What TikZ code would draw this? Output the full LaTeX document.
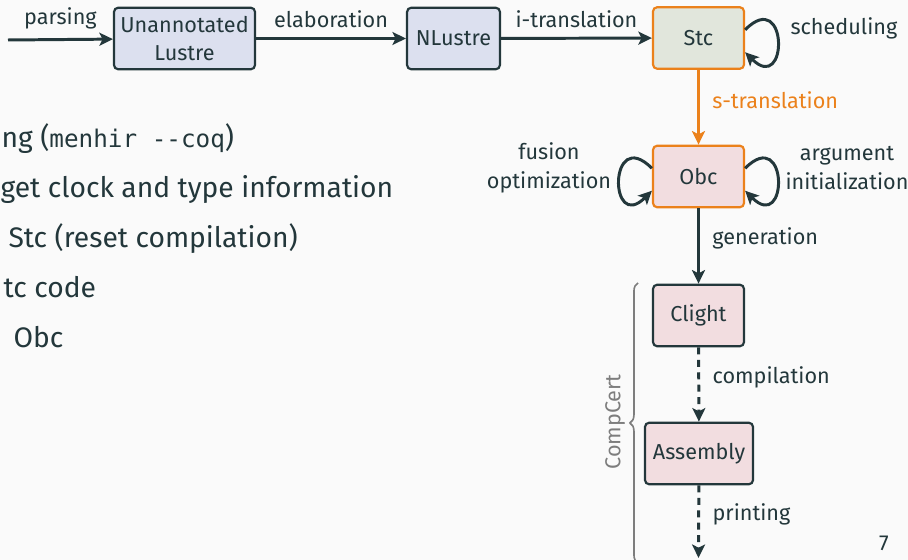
\documentclass[tikz,border=0pt]{standalone}
\usepackage{fontspec}
\setmainfont{Fira Sans}
\setmonofont{DejaVu Sans Mono}[Scale=0.86]
\usetikzlibrary{arrows.meta,decorations.pathreplacing}
\definecolor{mDark}{HTML}{23373B}
\definecolor{mOrange}{HTML}{EB811B}
\definecolor{mBg}{HTML}{FAFAFA}
\definecolor{fillLus}{HTML}{DCE0EF}
\definecolor{fillStc}{HTML}{E1E6DC}
\definecolor{fillObc}{HTML}{F2DDE0}
\definecolor{mGray}{HTML}{7D7D7D}
\newcommand\diafont{\fontsize{8}{10.7}\selectfont}
\newcommand\bodyfont{\fontsize{10.45}{12.5}\selectfont}
\tikzset{
  lang/.style   ={draw=mDark, rounded corners=1.6pt, line width=0.8pt,
                  minimum height=22.8pt, inner sep=2pt, align=center,
                  text=mDark, font=\diafont},
  hotlang/.style={lang, draw=mOrange},
  arr/.style    ={-{Stealth[length=5pt, width=4.8pt, inset=1.2pt]},
                  line width=1.1pt, draw=mDark},
  hotarr/.style ={arr, draw=mOrange},
  certarr/.style={arr, dash pattern=on 2.6pt off 2pt},
  lbl/.style    ={font=\diafont, text=mDark, inner sep=0pt},
  bullet/.style ={font=\bodyfont, text=mDark, inner sep=0pt, anchor=base west},
  brc/.style    ={decorate, decoration={brace, amplitude=3pt},
                  draw=mGray, line width=0.6pt},
}

\begin{document}
\begin{tikzpicture}[x=0.37pt, y=-0.37pt]
  \fill[mBg] (0,0) rectangle (908,560);
  \useasboundingbox (0,0) rectangle (908,560);

  % text of the slide, as far as it shows
  \node[bullet] (b1) at (1,148)  {ng (\texttt{menhir -{}-coq})};
  \node[bullet] (b2) at (0,198)  {get clock and type information};
  \node[bullet] (b3) at (8,248)  {Stc (reset compilation)};
  \node[bullet] (b4) at (3,298)  {tc code};
  \node[bullet] (b5) at (13,348) {Obc};

  % compilation chain
  \coordinate (src) at (8,40);
  \node[lang, minimum width=52.2pt, fill=fillLus] (una) at (184.5,38.5)
    {Unannotated\\Lustre};
  \node[lang, minimum width=34.4pt, fill=fillLus] (nlu) at (453.5,38.5) {NLustre};
  \node[hotlang, minimum width=33.7pt, fill=fillStc] (stc) at (698.5,38) {Stc};
  \node[hotlang, minimum width=33.7pt, fill=fillObc] (obc) at (698.5,176.5) {Obc};
  \node[lang, minimum width=33.7pt, fill=fillObc] (cli) at (698.5,315.5) {Clight};
  \node[lang, minimum width=40pt, fill=fillObc] (asm) at (699,453.5) {Assembly};
  \coordinate (out) at (698.5,558);

  \draw[arr] (src) -- (una) node[lbl, midway, above=3.3pt] {parsing};
  \draw[arr] (una) -- (nlu) node[lbl, midway, above=3.3pt] {elaboration};
  \draw[arr] (nlu) -- (stc) node[lbl, midway, above=3.3pt] {i-translation};
  \draw[hotarr] (stc) -- (obc)
    node[lbl, pos=0.4, right=4.6pt, text=mOrange] {s-translation};
  \draw[arr] (obc) -- (cli) node[lbl, pos=0.4, right=4.6pt] {generation};
  \draw[certarr] (cli) -- (asm) node[lbl, pos=0.4, right=4.6pt] {compilation};
  \draw[certarr] (asm) -- (out) node[lbl, pos=0.4, right=4.6pt] {printing};

  % loops
  \draw[arr] (stc.10) to[out=45, in=-45, looseness=7] (stc.-17);
  \draw[arr] (obc.10) to[out=45, in=-45, looseness=7] (obc.-17);
  \draw[arr] (obc.170) to[out=135, in=-135, looseness=7] (obc.-163);
  \node[lbl, anchor=west] (schl) at (790,28) {scheduling};
  \node[lbl, align=center] (fusl) at (549,168) {fusion\\optimization};
  \node[lbl, align=center] (argl) at (847,168) {argument\\initialization};

  % CompCert part
  \coordinate (bt) at (638,283);
  \coordinate (bb) at (638,563);
  \draw[brc] (bb) -- (bt);
  \node[lbl, rotate=90, text=mGray] (ccl) at (615,422) {CompCert};

  \node[lbl] (pnum) at (884,543) {7};
\end{tikzpicture}
\end{document}
